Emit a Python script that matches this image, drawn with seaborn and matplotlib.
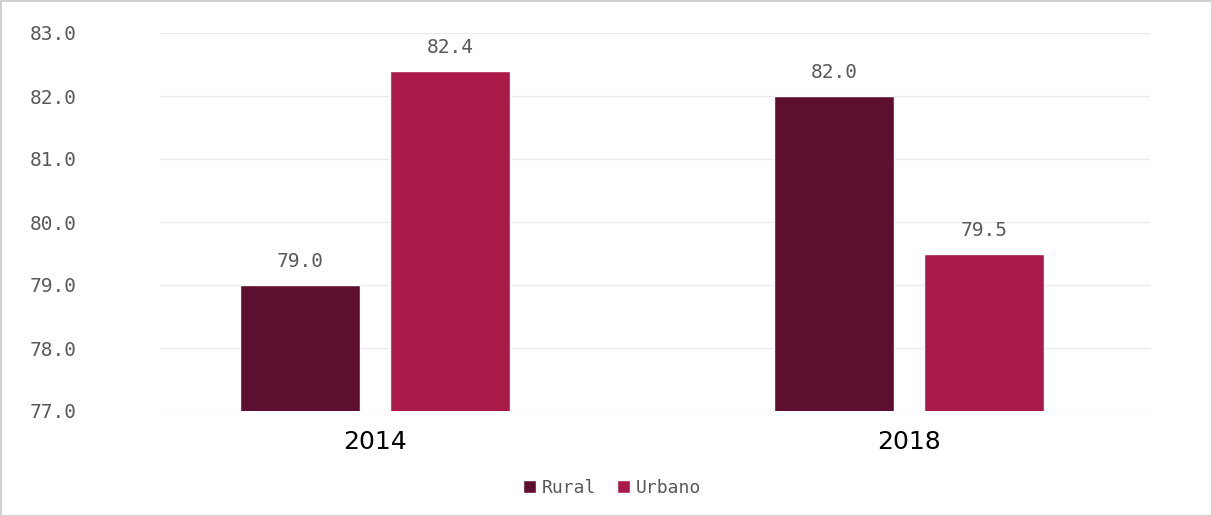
import pandas as pd
import seaborn as sns
import matplotlib.pyplot as plt
from matplotlib.patches import Patch

# datos
anios = ["2014", "2018"]
areas = ["Rural", "Urbano"]
rural = [79.0, 82.0]
urbano = [82.4, 79.5]
colores = ["#5e0f2f", "#a91a49"]

df = pd.DataFrame({
    "Año": anios * 2,
    "Area": [areas[0]] * 2 + [areas[1]] * 2,
    "Valor": rural + urbano,
})

sns.set_theme(style="white")
plt.rcParams['font.family'] = ['DejaVu Sans']
mono = "DejaVu Sans Mono"

fig = plt.figure(figsize=(12.12, 5.16), dpi=100)
fig.patch.set_edgecolor("#d0d0d0")
fig.patch.set_linewidth(2)
ax = fig.add_axes([160 / 1212, 1 - 411 / 516, 990 / 1212, 378 / 516])

sns.barplot(
    data=df, x="Año", y="Valor", hue="Area",
    palette=colores, width=0.562, gap=0.2, saturation=1,
    errorbar=None, ax=ax, legend=False,
)

ax.set_ylim(77, 83)
ax.set_xlim(-0.403, 1.451)
ax.set_yticks([77, 78, 79, 80, 81, 82, 83])
ax.set_yticklabels([f"{v:.1f}" for v in ax.get_yticks()],
                   fontsize=14, color="#595959", ha="left", family=mono)
ax.tick_params(axis="y", pad=94, length=0)
ax.tick_params(axis="x", labelsize=18, colors="black", pad=14, length=0)
ax.set_xlabel("")
ax.set_ylabel("")
ax.grid(axis="y", color="#ebebeb", linewidth=1)
ax.set_axisbelow(True)
for s in ax.spines.values():
    s.set_visible(False)

for cont in ax.containers:
    ax.bar_label(cont, fmt="%.1f", padding=10, fontsize=14, color="#595959", family=mono)

# leyenda
handles = [Patch(facecolor=c, label=a) for a, c in zip(areas, colores)]
fig.legend(handles=handles, loc="center", bbox_to_anchor=(612 / 1212, 1 - 488 / 516),
           ncol=2, frameon=False, handlelength=0.7, handleheight=0.7,
           handletextpad=0.3, columnspacing=1.2, labelcolor="#595959",
           prop={"family": mono, "size": 13})

plt.savefig("out.png", dpi=100)
plt.close()
